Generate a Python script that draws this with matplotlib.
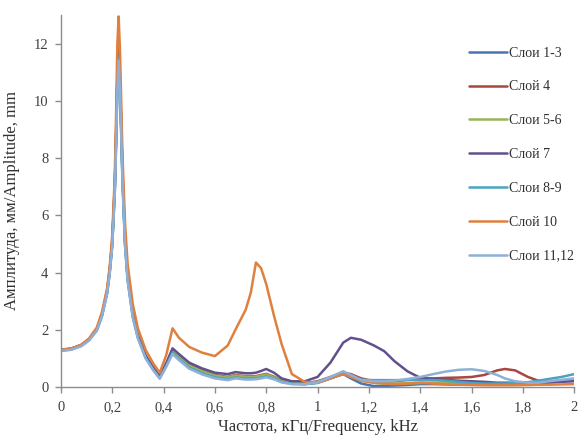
import matplotlib
matplotlib.use("Agg")
import matplotlib.pyplot as plt
from matplotlib.ticker import FuncFormatter, MultipleLocator

# Frequency grid, kHz
freq = [0, 0.04, 0.08, 0.11, 0.14, 0.16, 0.18, 0.19, 0.2, 0.21,
        0.215, 0.22, 0.225, 0.23, 0.235, 0.24, 0.25, 0.26, 0.28, 0.3,
        0.33, 0.36, 0.385, 0.41, 0.435, 0.46, 0.5, 0.55, 0.6, 0.65,
        0.68, 0.72, 0.74, 0.76, 0.78, 0.8, 0.83, 0.86, 0.9, 0.95,
        1.0, 1.05, 1.1, 1.13, 1.17, 1.22, 1.26, 1.3, 1.35, 1.4,
        1.45, 1.5, 1.55, 1.6, 1.65, 1.7, 1.73, 1.77, 1.82, 1.86,
        1.9, 1.95, 2.0]

# Amplitude, mm
layers_1_3 = [1.28, 1.32, 1.45, 1.65, 2.0, 2.5, 3.3, 4.0, 5.0, 6.9,
              8.6, 10.6, 11.6, 10.6, 9.0, 7.3, 5.0, 3.8, 2.5, 1.75,
              1.05, 0.62, 0.33, 0.75, 1.25, 1.02, 0.72, 0.52, 0.38, 0.3,
              0.37, 0.33, 0.33, 0.33, 0.36, 0.4, 0.32, 0.2, 0.12, 0.1,
              0.15, 0.3, 0.45, 0.3, 0.12, 0.03, 0.04, 0.05, 0.07, 0.1,
              0.1, 0.09, 0.08, 0.08, 0.08, 0.08, 0.08, 0.1, 0.12, 0.15,
              0.18, 0.2, 0.25]
layer_4 = [1.3, 1.34, 1.47, 1.67, 2.02, 2.55, 3.35, 4.1, 5.1, 7.1,
           8.9, 11.0, 12.0, 10.9, 9.2, 7.5, 5.2, 3.9, 2.6, 1.8,
           1.08, 0.65, 0.36, 0.8, 1.3, 1.08, 0.78, 0.57, 0.42, 0.35,
           0.42, 0.38, 0.38, 0.38, 0.42, 0.46, 0.36, 0.22, 0.14, 0.13,
           0.2, 0.35, 0.5, 0.45, 0.3, 0.2, 0.18, 0.2, 0.25, 0.3,
           0.3, 0.32, 0.33, 0.35, 0.42, 0.58, 0.63, 0.58, 0.35, 0.22,
           0.2, 0.22, 0.28]
layers_5_6 = [1.29, 1.33, 1.46, 1.66, 2.01, 2.52, 3.32, 4.05, 5.05, 7.0,
              8.7, 10.8, 11.7, 10.7, 9.1, 7.4, 5.1, 3.85, 2.55, 1.78,
              1.07, 0.64, 0.35, 0.78, 1.28, 1.05, 0.75, 0.55, 0.4, 0.33,
              0.4, 0.36, 0.36, 0.36, 0.4, 0.44, 0.34, 0.21, 0.13, 0.12,
              0.18, 0.33, 0.5, 0.38, 0.22, 0.14, 0.12, 0.12, 0.13, 0.14,
              0.15, 0.15, 0.14, 0.14, 0.13, 0.13, 0.13, 0.13, 0.14, 0.15,
              0.17, 0.2, 0.24]
layer_7 = [1.3, 1.34, 1.47, 1.67, 2.02, 2.53, 3.33, 4.05, 5.05, 7.0,
           8.7, 10.8, 11.7, 10.7, 9.1, 7.4, 5.1, 3.85, 2.55, 1.8,
           1.1, 0.68, 0.38, 0.82, 1.35, 1.15, 0.85, 0.65, 0.5, 0.45,
           0.52, 0.48, 0.48, 0.5, 0.56, 0.63, 0.5, 0.3, 0.2, 0.2,
           0.35, 0.85, 1.55, 1.72, 1.65, 1.45, 1.25, 0.9, 0.55, 0.32,
           0.28, 0.25, 0.22, 0.2, 0.18, 0.15, 0.15, 0.15, 0.15, 0.15,
           0.15, 0.18, 0.2]
layers_8_9 = [1.27, 1.31, 1.44, 1.64, 1.98, 2.48, 3.28, 3.98, 4.95, 6.85,
              8.5, 10.5, 11.5, 10.5, 8.9, 7.2, 4.95, 3.75, 2.45, 1.72,
              1.02, 0.6, 0.31, 0.72, 1.2, 0.98, 0.68, 0.48, 0.34, 0.27,
              0.33, 0.3, 0.3, 0.3, 0.33, 0.37, 0.3, 0.18, 0.11, 0.1,
              0.14, 0.3, 0.48, 0.35, 0.25, 0.24, 0.24, 0.24, 0.24, 0.24,
              0.24, 0.22, 0.18, 0.14, 0.12, 0.12, 0.12, 0.14, 0.17, 0.22,
              0.28, 0.35, 0.45]
layer_10 = [1.3, 1.34, 1.48, 1.7, 2.08, 2.62, 3.45, 4.2, 5.3, 7.4,
            9.5, 12.0, 12.95, 11.8, 10.0, 8.1, 5.7, 4.3, 2.9, 2.05,
            1.3, 0.82, 0.5, 1.1, 2.05, 1.72, 1.4, 1.2, 1.08, 1.45,
            2.0, 2.7, 3.3, 4.35, 4.15, 3.6, 2.5, 1.5, 0.45, 0.18,
            0.15, 0.3, 0.45, 0.35, 0.22, 0.15, 0.12, 0.1, 0.12, 0.15,
            0.12, 0.1, 0.08, 0.07, 0.06, 0.06, 0.06, 0.06, 0.07, 0.08,
            0.08, 0.09, 0.1]
layers_11_12 = [1.26, 1.3, 1.43, 1.63, 1.97, 2.46, 3.25, 3.95, 4.9, 6.8,
                8.4, 10.4, 11.4, 10.4, 8.8, 7.1, 4.9, 3.7, 2.42, 1.7,
                1.0, 0.58, 0.29, 0.7, 1.15, 0.94, 0.64, 0.44, 0.3, 0.24,
                0.3, 0.26, 0.26, 0.27, 0.3, 0.34, 0.27, 0.16, 0.1, 0.1,
                0.16, 0.35, 0.55, 0.42, 0.25, 0.2, 0.2, 0.22, 0.28, 0.35,
                0.45, 0.54, 0.6, 0.62, 0.56, 0.42, 0.3, 0.2, 0.15, 0.15,
                0.2, 0.25, 0.3]

labels = ["Слои 1-3", "Слой 4", "Слои 5-6", "Слой 7", "Слои 8-9",
          "Слой 10", "Слои 11,12"]
colors = ["#4A74B0", "#A8463F", "#98B45A", "#62508E", "#4BA3C0",
          "#E0803F", "#8FB0D6"]
series = [layers_1_3, layer_4, layers_5_6, layer_7, layers_8_9,
          layer_10, layers_11_12]

plt.rcParams["font.family"] = ["Liberation Serif", "DejaVu Serif"]

fig = plt.figure(figsize=(5.8, 4.36), dpi=100)
ax = fig.add_axes([0.105, 0.1124, 0.885, 0.8532])

for vals, lab, col in zip(series, labels, colors):
    ax.plot(freq, vals, color=col, lw=1.8, label=lab,
            solid_joinstyle="round", solid_capstyle="round")

ax.set_xlim(0, 2)
ax.set_ylim(0, 13)
ax.xaxis.set_major_locator(MultipleLocator(0.2))
ax.set_yticks([0, 2, 4, 6, 8, 10, 12])


def comma_fmt(v, pos):
    s = f"{v:.1f}".rstrip("0").rstrip(".")
    return s.replace(".", ",")


ax.xaxis.set_major_formatter(FuncFormatter(comma_fmt))

for side in ("top", "right"):
    ax.spines[side].set_visible(False)
for side in ("left", "bottom"):
    ax.spines[side].set_color("#8c8c8c")
    ax.spines[side].set_linewidth(1.0)
ax.tick_params(axis="both", direction="out", length=4, width=1.0,
               color="#8c8c8c", labelcolor="#404040", labelsize=10.5)
ax.tick_params(axis="x", pad=6)
ax.tick_params(axis="y", pad=5)

ax.set_xlabel("Частота, кГц/Frequency, kHz", fontsize=12,
              color="#303030", labelpad=4)
ax.set_ylabel("Амплитуда, мм/Amplitude, mm", fontsize=12,
              color="#303030", labelpad=10)

leg = ax.legend(loc="upper left", bbox_to_anchor=(0.785, 0.93),
                frameon=False, fontsize=10, handlelength=2.7,
                handletextpad=0.15, labelspacing=1.5, borderaxespad=0)
for t in leg.get_texts():
    t.set_color("#303030")

fig.savefig("out.png", dpi=100)
